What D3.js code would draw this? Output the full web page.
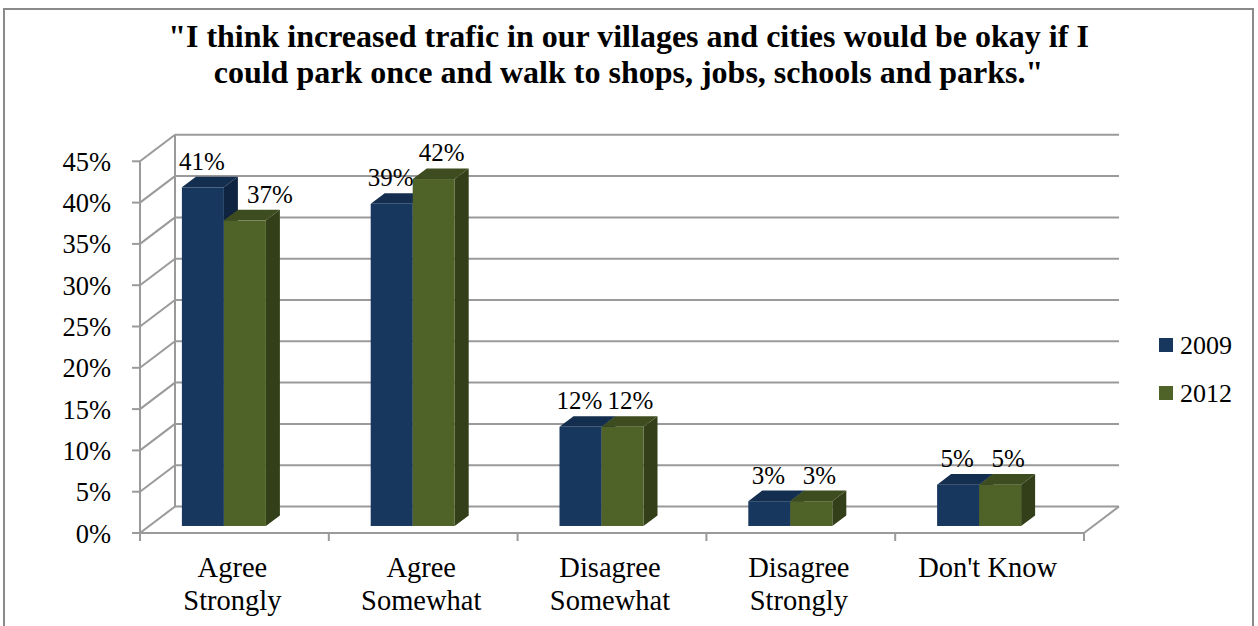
<!DOCTYPE html>
<html>
<head>
<meta charset="utf-8">
<script src="https://cdn.jsdelivr.net/npm/d3@7/dist/d3.min.js"></script>
<style>
  html, body { margin: 0; padding: 0; background: #fff; }
  svg { display: block; font-family: "Liberation Serif", "Times New Roman", serif; }
</style>
</head>
<body>
<svg id="chart" width="1258" height="626"></svg>
<script>
// Survey responses, share of respondents (%)
const categories = [["Agree", "Strongly"], ["Agree", "Somewhat"], ["Disagree", "Somewhat"], ["Disagree", "Strongly"], ["Don't Know"]];
const seriesNames = ["2009", "2012"];
const values2009 = [41, 39, 12, 3, 5];
const values2012 = [37, 42, 12, 3, 5];
const yTicks = [0, 5, 10, 15, 20, 25, 30, 35, 40, 45];
const titleLines = ["\"I think increased trafic in our villages and cities would be okay if I",
                    "could park once and walk to shops, jobs, schools and parks.\""];

const series = [values2009, values2012];
const colors = [
  { front: "#17375E", top: "#142E50", side: "#0F2440" },
  { front: "#4F6228", top: "#3E4D1F", side: "#333F19" }
];

const svg = d3.select("#chart");
const W = 1258;

// oblique 3D projection: depth vector of the plot box
const depth = { dx: 35, dy: -26.5 };
const frontLeft = 140, frontRight = 1084;
const y = d3.scaleLinear().domain([0, 45]).range([533, 161.3]);
const x = d3.scaleBand().domain(d3.range(categories.length)).range([frontLeft, frontRight]);

const gridColor = "#9a9a9a";

// chart border
svg.append("rect").attr("x", 4).attr("y", 9).attr("width", 1249).attr("height", 640)
  .attr("fill", "none").attr("stroke", "#8a8a8a").attr("stroke-width", 2);

// title
svg.append("g").selectAll("text").data(titleLines).join("text")
  .attr("x", W / 2 - 0.5).attr("y", (d, i) => 47 + i * 36)
  .attr("text-anchor", "middle").attr("font-weight", "bold").attr("font-size", 32)
  .text(d => d);

const walls = svg.append("g").attr("stroke", gridColor).attr("stroke-width", 2).attr("fill", "none");
const bx = t => t + depth.dx;   // x on back plane
const by = t => t + depth.dy;   // y on back plane

// back wall gridlines
walls.selectAll("line.grid").data(yTicks).join("line").attr("class", "grid")
  .attr("x1", bx(frontLeft)).attr("x2", bx(frontRight))
  .attr("y1", d => by(y(d))).attr("y2", d => by(y(d)));
// side wall gridlines
walls.selectAll("line.side").data(yTicks).join("line").attr("class", "side")
  .attr("x1", frontLeft).attr("x2", bx(frontLeft))
  .attr("y1", d => y(d)).attr("y2", d => by(y(d)));
// back wall left edge
walls.append("line").attr("x1", bx(frontLeft)).attr("x2", bx(frontLeft))
  .attr("y1", by(y(0))).attr("y2", by(y(45)));
// floor: front edge and right edge
walls.append("line").attr("x1", frontLeft).attr("x2", frontRight).attr("y1", y(0)).attr("y2", y(0));
walls.append("line").attr("x1", frontRight).attr("x2", bx(frontRight)).attr("y1", y(0)).attr("y2", by(y(0)));
// value axis with ticks
walls.append("line").attr("x1", frontLeft).attr("x2", frontLeft).attr("y1", y(0) + 7).attr("y2", y(45));
walls.selectAll("line.tick").data(yTicks).join("line").attr("class", "tick")
  .attr("x1", frontLeft - 8).attr("x2", frontLeft).attr("y1", d => y(d)).attr("y2", d => y(d));
// category axis ticks
const catEdges = d3.range(categories.length + 1).map(i => i === categories.length ? frontRight : x(i));
walls.selectAll("line.ctick").data(catEdges).join("line").attr("class", "ctick")
  .attr("x1", d => d).attr("x2", d => d).attr("y1", y(0)).attr("y2", y(0) + 8);

// value tick labels
svg.append("g").selectAll("text").data(yTicks).join("text")
  .attr("x", 111).attr("y", d => y(d) + 9.5).attr("text-anchor", "end")
  .attr("font-size", 26.5).text(d => d + "%");

// category labels
const catG = svg.append("g").selectAll("text").data(categories).join("text")
  .attr("text-anchor", "middle").attr("font-size", 28.5)
  .attr("transform", (d, i) => `translate(${x(i) + x.bandwidth() / 2 - 2},577)`);
catG.selectAll("tspan").data(d => d).join("tspan")
  .attr("x", 0).attr("dy", (d, i) => i === 0 ? 0 : 33).text(d => d);

// bars: each column sits part way into the depth of the box
const barW = 42;
const f0 = 0.265, f1 = 0.665;      // front / back depth fractions of each column
const pairShift = -10.5;
const ddx = (f1 - f0) * depth.dx, ddy = (f1 - f0) * depth.dy;
const bars = svg.append("g");
const labels = [];
categories.forEach((c, ci) => {
  const cx = x(ci) + x.bandwidth() / 2 + pairShift;
  series.forEach((vals, si) => {
    const v = vals[ci];
    const x0 = cx - barW + si * barW, x1 = x0 + barW;
    const yb = y(0) + f0 * depth.dy;
    const yt = y(v) + f0 * depth.dy;
    const col = colors[si];
    // right side face
    bars.append("path").attr("fill", col.side)
      .attr("d", `M${x1},${yb}L${x1 + ddx},${yb + ddy}L${x1 + ddx},${yt + ddy}L${x1},${yt}Z`);
    // top face
    bars.append("path").attr("fill", col.top)
      .attr("d", `M${x0},${yt}L${x1},${yt}L${x1 + ddx},${yt + ddy}L${x0 + ddx},${yt + ddy}Z`);
    // front face
    bars.append("rect").attr("fill", col.front)
      .attr("x", x0).attr("y", yt).attr("width", barW).attr("height", yb - yt);
    labels.push({ v, si, ci, x: (x0 + x1) / 2 + (si === 0 ? -1 : 8), y: yt + ddy - 7,
                  barRight: x1 + ddx, barTop: yt + ddy });
  });
});

// data labels; a label that would sit on the neighbouring taller column is moved clear of it
const labelText = svg.append("g").selectAll("text").data(labels).join("text")
  .attr("text-anchor", "middle").attr("font-size", 25).text(d => d.v + "%");
labelText.each(function (d) {
  const w = this.getComputedTextLength();
  if (d.si === 1) {
    const prev = labels.find(o => o.ci === d.ci && o.si === 0);
    const labelTop = d.y - 18;
    if (labelTop < d.y && d.y > prev.barTop && d.x - w / 2 < prev.barRight + 9) {
      d.x = prev.barRight + 9 + w / 2;
    }
  }
}).attr("x", d => d.x).attr("y", d => d.y);

// legend
const leg = svg.append("g").selectAll("g").data(seriesNames).join("g")
  .attr("transform", (d, i) => `translate(1159,${338 + i * 48})`);
leg.append("rect").attr("width", 14).attr("height", 14).attr("fill", (d, i) => colors[i].front);
leg.append("text").attr("x", 21).attr("y", 16).attr("font-size", 26).text(d => d);
</script>
</body>
</html>
